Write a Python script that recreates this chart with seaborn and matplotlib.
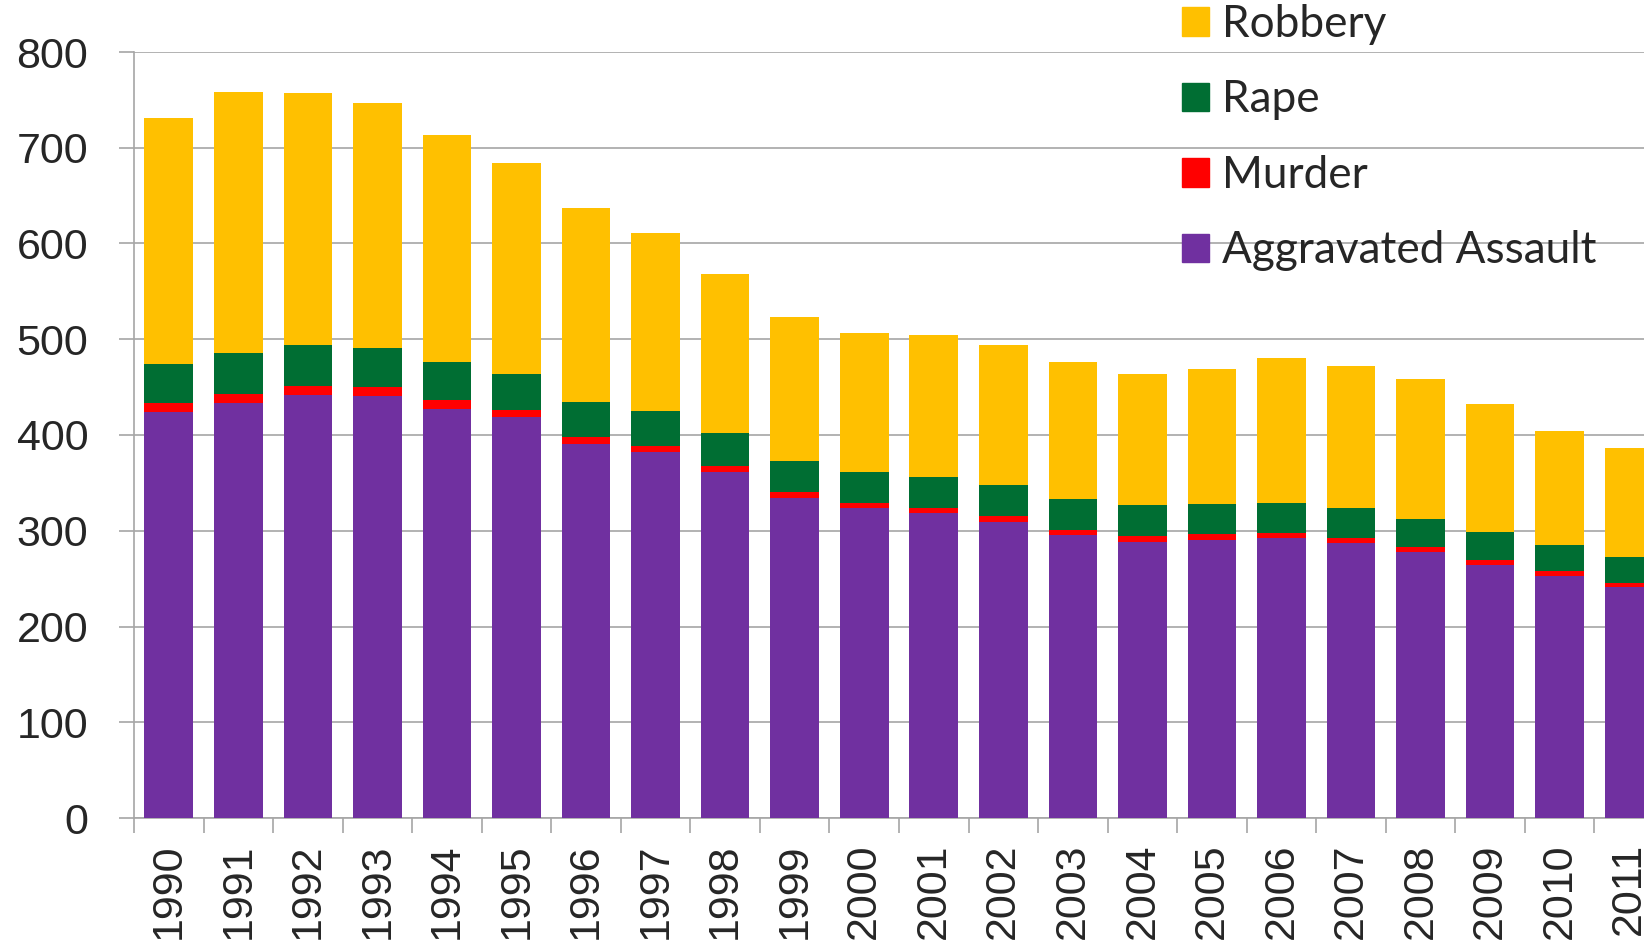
import numpy as np
import pandas as pd
import matplotlib
matplotlib.use("Agg")
import matplotlib.pyplot as plt
import matplotlib.patches as mpatches
from matplotlib.ticker import FixedLocator
import seaborn as sns

years = [str(y) for y in range(1990, 2012)]
aggravated_assault = [424.1, 433.4, 441.9, 440.5, 427.6, 418.3, 391.0, 382.1, 361.4, 334.3, 324.0,
                      318.6, 309.5, 295.4, 288.6, 290.8, 292.0, 287.2, 277.5, 264.7, 252.8, 241.1]
murder = [9.4, 9.8, 9.3, 9.5, 9.0, 8.2, 7.4, 6.8, 6.3, 5.7, 5.5,
          5.6, 5.6, 5.7, 5.5, 5.6, 5.8, 5.7, 5.4, 5.0, 4.8, 4.7]
rape = [41.1, 42.3, 42.8, 41.1, 39.3, 37.1, 36.3, 35.9, 34.5, 32.8, 32.0,
        31.8, 33.1, 32.3, 32.4, 31.8, 31.6, 30.6, 29.8, 29.1, 27.7, 26.8]
robbery = [256.3, 272.7, 263.7, 256.0, 237.8, 220.9, 201.9, 186.2, 165.5, 150.1, 145.0,
           148.5, 146.1, 142.5, 136.7, 140.8, 150.6, 148.3, 145.9, 133.1, 119.3, 113.7]

series_names = ["Aggravated Assault", "Murder", "Rape", "Robbery"]
colors = {"Aggravated Assault": "#7030A0", "Murder": "#FF0000", "Rape": "#006E33", "Robbery": "#FFC000"}

df = pd.DataFrame({"year": years, "Aggravated Assault": aggravated_assault,
                   "Murder": murder, "Rape": rape, "Robbery": robbery})
cum = df[series_names].cumsum(axis=1)

sns.set_style("white")
plt.rcParams["font.family"] = ["Liberation Sans", "DejaVu Sans"]

W, H = 1644, 947
fig = plt.figure(figsize=(W / 100, H / 100), dpi=100)
left_px, right_px, top_px, bottom_px = 134, 1664, 52, 818
ax = fig.add_axes([left_px / W, (H - bottom_px) / H, (right_px - left_px) / W, (bottom_px - top_px) / H])

# draw cumulative stacks from top down so each layer overlays the previous
for name in reversed(series_names):
    sns.barplot(x=df["year"], y=cum[name], color=colors[name], width=0.7, ax=ax,
                saturation=1, linewidth=0, zorder=3)

ax.set_xlim(-0.5, len(years) - 0.5)
ax.set_ylim(0, 800)
ax.set_yticks(range(0, 801, 100))
ax.set_xlabel("")
ax.set_ylabel("")

grid_c = "#A6A6A6"
ax.yaxis.grid(True, color=grid_c, linewidth=1.2, zorder=0)
ax.set_axisbelow(True)
for s in ["top", "right"]:
    ax.spines[s].set_visible(False)
for s in ["left", "bottom"]:
    ax.spines[s].set_color(grid_c)
    ax.spines[s].set_linewidth(1.2)

ax.tick_params(axis="y", direction="out", length=11, width=1.2, color=grid_c,
               labelsize=31, pad=22, left=True)
ax.set_xticks(range(len(years)))
ax.set_xticklabels(years, rotation=90, fontsize=31, va="top")
ax.tick_params(axis="x", which="major", length=0, pad=18)
ax.xaxis.set_minor_locator(FixedLocator(np.arange(-0.5, len(years), 1.0)))
ax.tick_params(axis="x", which="minor", direction="out", length=11, width=1.2, color=grid_c, bottom=True)

handles = [mpatches.Patch(color=colors[n], label=n) for n in ["Robbery", "Rape", "Murder", "Aggravated Assault"]]
fig.legend(handles=handles, loc="upper left", bbox_to_anchor=(1182 / W, 1.0 - 4 / H), frameon=False,
           prop={"family": ["Lato", "DejaVu Sans"], "size": 31.8},
           handlelength=0.61, handleheight=0.61, handletextpad=0.3,
           labelspacing=0.78, borderpad=0, borderaxespad=0)

fig.savefig("out.png", dpi=100)
